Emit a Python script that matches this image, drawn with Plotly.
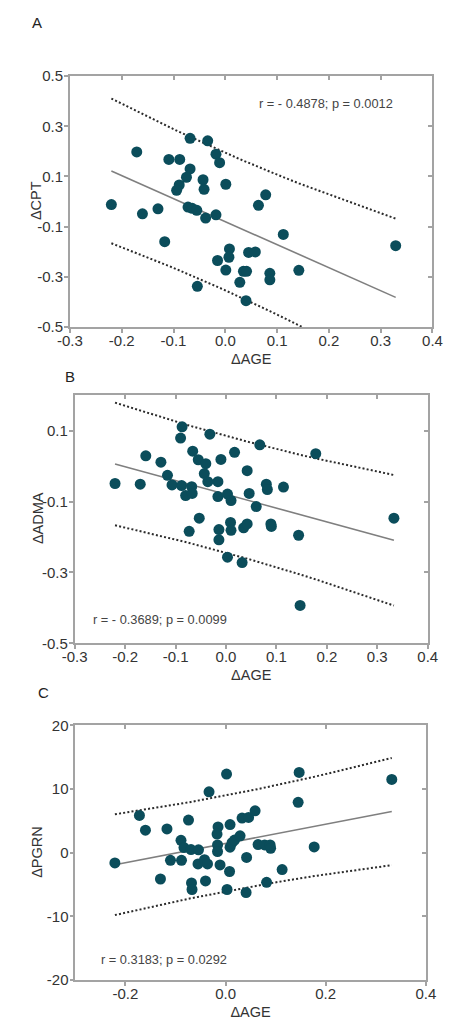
import numpy as np
import plotly.graph_objects as go

# ---------------- data ----------------
# Panel A: dAGE vs dCPT
age_a = [-0.220, -0.171, -0.160, -0.130, -0.117, -0.109, -0.088, -0.068, -0.068, -0.075,
         -0.089, -0.094, -0.072, -0.064, -0.055, -0.038, -0.043, -0.041, -0.034, -0.018,
         -0.011, -0.018, 0.001, -0.054, -0.015, 0.001, 0.008, 0.007, 0.028, 0.035,
         0.041, 0.040, 0.045, 0.058, 0.064, 0.078, 0.086, 0.086, 0.112, 0.142, 0.329]
cpt_a = [-0.012, 0.198, -0.049, -0.029, -0.160, 0.168, 0.168, 0.252, 0.130, 0.097,
         0.066, 0.045, -0.022, -0.027, -0.035, -0.066, 0.087, 0.049, 0.242, 0.189,
         0.155, -0.053, 0.069, -0.338, -0.235, -0.273, -0.189, -0.222, -0.322, -0.278,
         -0.278, -0.395, -0.203, -0.201, -0.015, 0.027, -0.286, -0.312, -0.131, -0.274, -0.176]

# Panel B: dAGE vs dADMA
age_b = [-0.220, -0.170, -0.159, -0.129, -0.116, -0.107, -0.087, -0.090, -0.088, -0.080,
         -0.068, -0.067, -0.066, -0.055, -0.073, -0.053, -0.043, -0.040, -0.036, -0.032,
         -0.016, -0.010, -0.016, -0.014, -0.014, 0.003, 0.010, 0.003, 0.009, 0.010,
         0.017, 0.032, 0.035, 0.042, 0.042, 0.046, 0.060, 0.067, 0.080, 0.082,
         0.089, 0.090, 0.114, 0.144, 0.147, 0.178, 0.333]
adma_b = [-0.049, -0.051, 0.029, 0.011, -0.026, -0.053, 0.111, 0.079, -0.055, -0.083,
          -0.058, -0.077, 0.042, 0.018, -0.184, -0.147, -0.021, 0.007, -0.044, 0.090,
          -0.044, 0.019, -0.086, -0.179, -0.208, -0.079, -0.097, -0.257, -0.159, -0.181,
          0.039, -0.272, -0.174, -0.163, -0.013, -0.077, -0.114, 0.060, -0.051, -0.066,
          -0.163, -0.170, -0.059, -0.195, -0.393, 0.035, -0.147]

# Panel C: dAGE vs dPGRN
age_c = [-0.221, -0.172, -0.160, -0.130, -0.117, -0.110, -0.089, -0.088, -0.083, -0.074,
         -0.069, -0.068, -0.067, -0.054, -0.055, -0.042, -0.036, -0.040, -0.033, -0.015,
         -0.017, -0.016, -0.016, -0.011, 0.002, 0.003, 0.009, 0.008, 0.009, 0.013,
         0.018, 0.029, 0.033, 0.042, 0.041, 0.046, 0.059, 0.065, 0.078, 0.082,
         0.089, 0.090, 0.113, 0.145, 0.147, 0.177, 0.332]
pgrn_c = [-1.62, 5.84, 3.53, -4.14, 3.73, -1.21, 1.93, -1.21, 0.80, 5.12,
          0.49, -4.76, -5.79, 0.44, -1.78, -1.11, -1.78, -4.45, 9.55, 4.04,
          2.91, 1.21, 0.18, -1.93, 12.33, -5.79, 4.40, -2.96, 0.85, 1.57,
          1.98, 2.65, 5.43, -0.75, -6.26, 5.53, 6.56, 1.26, 1.21, -4.66,
          1.21, 0.69, -2.65, 7.90, 12.59, 0.90, 11.50]

stats_a = "r = - 0.4878; p = 0.0012"
stats_b = "r = - 0.3689; p = 0.0099"
stats_c = "r = 0.3183; p = 0.0292"

panel_letters = ["A", "B", "C"]
y_titles = ["\u0394CPT", "\u0394ADMA", "\u0394PGRN"]
x_title = "\u0394AGE"

xtick_vals_ab = [-0.3, -0.2, -0.1, 0.0, 0.1, 0.2, 0.3, 0.4]
xtick_text_ab = ["-0.3", "-0.2", "-0.1", "0.0", "0.1", "0.2", "0.3", "0.4"]
xtick_vals_c = [-0.2, 0.0, 0.2, 0.4]
xtick_text_c = ["-0.2", "0.0", "0.2", "0.4"]
ytick_vals_a = [0.5, 0.3, 0.1, -0.1, -0.3, -0.5]
ytick_text_a = ["0.5", "0.3", "0.1", "-0.1", "-0.3", "-0.5"]
ytick_vals_b = [0.1, -0.1, -0.3, -0.5]
ytick_text_b = ["0.1", "-0.1", "-0.3", "-0.5"]
ytick_vals_c = [20, 10, 0, -10, -20]
ytick_text_c = ["20", "10", "0", "-10", "-20"]

# two-sided 90% t quantiles (prediction bands), keyed by sample size
T_CRIT = {41: 1.6849, 47: 1.6794}

# ---------------- styling ----------------
FONT = "Liberation Sans, Arial, sans-serif"
MARKER = "#0b4d5b"
AXCOL = "#a3a3a3"
TXT = "#333333"


def fit_lines(x, y):
    x = np.asarray(x, float)
    y = np.asarray(y, float)
    n = len(x)
    b, a = np.polyfit(x, y, 1)
    resid = y - (a + b * x)
    s = np.sqrt(np.sum(resid ** 2) / (n - 2))
    sxx = np.sum((x - x.mean()) ** 2)
    xs = np.sort(x)
    yhat = a + b * xs
    half = T_CRIT[n] * s * np.sqrt(1 + 1 / n + (xs - x.mean()) ** 2 / sxx)
    return xs, yhat, yhat + half, yhat - half


fig = go.Figure()

panels = [
    (age_a, cpt_a, "x", "y"),
    (age_b, adma_b, "x2", "y2"),
    (age_c, pgrn_c, "x3", "y3"),
]

for ax, ay, xa, ya in panels:
    xs, yhat, up, lo = fit_lines(ax, ay)
    for band in (up, lo):
        fig.add_trace(go.Scatter(x=xs, y=band, mode="lines", xaxis=xa, yaxis=ya,
                                 line=dict(color="#2b2b2b", width=2, dash="2px,2.2px"),
                                 hoverinfo="skip", showlegend=False))
    fig.add_trace(go.Scatter(x=xs, y=yhat, mode="lines", xaxis=xa, yaxis=ya,
                             line=dict(color="#7f7f7f", width=1.6),
                             hoverinfo="skip", showlegend=False))
    fig.add_trace(go.Scatter(x=ax, y=ay, mode="markers", xaxis=xa, yaxis=ya,
                             marker=dict(color=MARKER, size=11, line=dict(width=0)),
                             showlegend=False))

# empty traces to activate the mirror-tick overlay axes
for xa, ya in [("x4", "y"), ("x5", "y2"), ("x6", "y3"), ("x", "y4"), ("x2", "y5"), ("x3", "y6")]:
    fig.add_trace(go.Scatter(x=[None], y=[None], xaxis=xa, yaxis=ya, mode="markers",
                             showlegend=False, hoverinfo="skip"))

W, H = 451, 1030


def px_dom_x(l, r):
    return [l / W, r / W]


def px_dom_y(top, bottom):
    return [1 - bottom / H, 1 - top / H]


doms = [
    (px_dom_x(60, 442), px_dom_y(68.3, 323.3)),
    (px_dom_x(65, 437), px_dom_y(392.7, 645)),
    (px_dom_x(65.7, 435), px_dom_y(728.3, 987.3)),
]
yranges = [[-0.5, 0.5], [-0.5, 0.2], [-20, 20]]
xticks = [(xtick_vals_ab, xtick_text_ab), (xtick_vals_ab, xtick_text_ab), (xtick_vals_c, xtick_text_c)]
yticks = [(ytick_vals_a, ytick_text_a), (ytick_vals_b, ytick_text_b), (ytick_vals_c, ytick_text_c)]

tickfont = dict(family=FONT, size=15, color=TXT)
titlefont = dict(family=FONT, size=14.5, color=TXT)

layout = dict(
    width=W, height=H, margin=dict(l=0, r=0, t=0, b=0),
    paper_bgcolor="white", plot_bgcolor="white", showlegend=False,
)

for i in range(3):
    sfx = "" if i == 0 else str(i + 1)
    xd, yd = doms[i]
    layout["xaxis" + sfx] = dict(
        domain=xd, range=[-0.3, 0.4], anchor="y" + sfx,
        tickvals=xticks[i][0], ticktext=xticks[i][1],
        ticks="outside", ticklen=4, tickwidth=1.5, tickcolor=AXCOL,
        showline=True, linecolor=AXCOL, linewidth=1.6, mirror=True,
        showgrid=False, zeroline=False, tickfont=tickfont, ticklabelstandoff=-5,
        title=dict(text=x_title, font=titlefont, standoff=6),
    )
    layout["yaxis" + sfx] = dict(
        domain=yd, range=yranges[i], anchor="x" + sfx,
        tickvals=yticks[i][0], ticktext=yticks[i][1],
        ticks="outside", ticklen=4, tickwidth=1.5, tickcolor=AXCOL,
        showline=True, linecolor=AXCOL, linewidth=1.6, mirror=True,
        showgrid=False, zeroline=False, tickfont=tickfont, ticklabelstandoff=-2,
    )
    # top inside ticks
    layout["xaxis" + str(i + 4)] = dict(
        overlaying="x" + sfx, side="top", anchor="y" + sfx, range=[-0.3, 0.4],
        tickvals=xticks[i][0], ticks="inside", ticklen=4, tickwidth=1.5,
        tickcolor=AXCOL, showticklabels=False, showline=False, showgrid=False,
        zeroline=False,
    )
    # right inside ticks
    layout["yaxis" + str(i + 4)] = dict(
        overlaying="y" + sfx, side="right", anchor="x" + sfx, range=yranges[i],
        tickvals=yticks[i][0], ticks="inside", ticklen=4, tickwidth=1.5,
        tickcolor=AXCOL, showticklabels=False, showline=False, showgrid=False,
        zeroline=False,
    )

ann = []
letter_pos = [(25, 14), (60, 374), (31.7, 695)]
for letter, (px, py) in zip(panel_letters, letter_pos):
    ann.append(dict(text=letter, x=px / W, y=1 - py / H, xref="paper", yref="paper",
                    xanchor="center", yanchor="middle", showarrow=False,
                    font=dict(family=FONT, size=15, color="#222222")))

# y-axis titles (rotated)
ytitle_pos = [(23.5, 195), (27, 518), (24.5, 856.7)]
for t, (px, py) in zip(y_titles, ytitle_pos):
    ann.append(dict(text=t, x=px / W, y=1 - py / H, xref="paper", yref="paper",
                    xanchor="center", yanchor="middle", showarrow=False, textangle=-90,
                    font=titlefont))

statfont = dict(family=FONT, size=12.8, color="#444444")
ann.append(dict(text=stats_a, x=329.5 / W, y=1 - 95.7 / H, xref="paper", yref="paper",
                xanchor="center", yanchor="middle", showarrow=False, font=statfont))
ann.append(dict(text=stats_b, x=81.7 / W, y=1 - 620.7 / H, xref="paper", yref="paper",
                xanchor="left", yanchor="middle", showarrow=False, font=statfont))
ann.append(dict(text=stats_c, x=90.7 / W, y=1 - 966.7 / H, xref="paper", yref="paper",
                xanchor="left", yanchor="middle", showarrow=False, font=statfont))
layout["annotations"] = ann

fig.update_layout(**layout)
fig.write_html("out.html")
